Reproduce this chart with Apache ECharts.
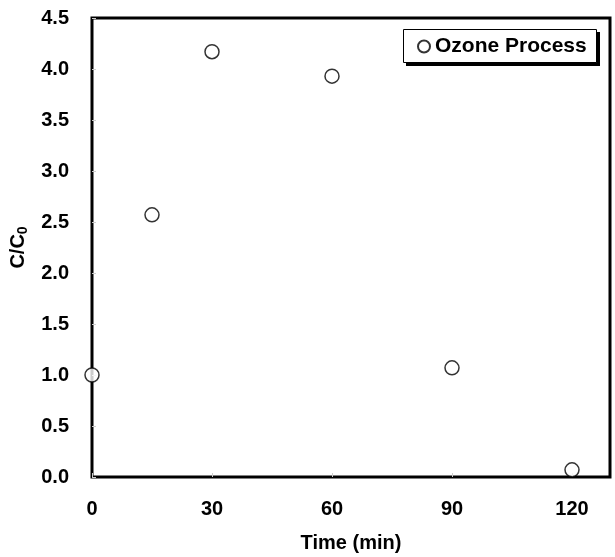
<!DOCTYPE html>
<html><head><meta charset="utf-8">
<script src="https://cdn.jsdelivr.net/npm/echarts@6/dist/echarts.min.js"></script>
<style>html,body{margin:0;padding:0;background:#fff}#c{width:615px;height:557px}</style>
</head><body><div id="c"></div>
<script>
const times = [0, 15, 30, 60, 90, 120];
const ratios = [1.0, 2.57, 4.17, 3.93, 1.07, 0.07];
const xTicks = [0, 30, 60, 90, 120];
const seriesName = 'Ozone Process';

const chart = echarts.init(document.getElementById('c'));
const font = '"Liberation Sans", Arial, sans-serif';
chart.setOption({
  animation: false,
  backgroundColor: '#fff',
  grid: { left: 92, top: 18, right: 5, bottom: 80, show: true, borderColor: '#000', borderWidth: 3,
          outerBoundsMode: 'none', containLabel: false },
  graphic: [
    { type: 'rect', z: 10, shape: { x: 406, y: 32, width: 194, height: 34 }, style: { fill: '#000' } },
    { type: 'rect', z: 11, shape: { x: 403.5, y: 29.5, width: 193, height: 33 }, style: { fill: '#fff', stroke: '#000', lineWidth: 1 } }
  ],
  legend: {
    left: 417, top: 36, orient: 'vertical', z: 20,
    data: [seriesName],
    padding: 0,
    itemWidth: 12, itemHeight: 12, itemGap: 4,
    textStyle: { fontFamily: font, fontWeight: 'bold', fontSize: 21, color: '#000' }
  },
  xAxis: {
    type: 'value', min: 0, max: 129.5,
    name: 'Time (min)', nameLocation: 'middle', nameGap: 56,
    nameTextStyle: { fontFamily: font, fontWeight: 'bold', fontSize: 20, color: '#000' },
    axisLine: { show: false },
    axisTick: { show: true, inside: true, length: 4, customValues: xTicks, lineStyle: { color: '#ccc' } },
    axisLabel: { customValues: xTicks, margin: 22, fontFamily: font, fontWeight: 'bold', fontSize: 20, color: '#000' },
    splitLine: { show: false }
  },
  yAxis: {
    type: 'value', min: 0, max: 4.5, interval: 0.5,
    name: 'C/C{s|0}', nameLocation: 'middle', nameGap: 60,
    nameTextStyle: { fontFamily: font, fontWeight: 'bold', fontSize: 20, color: '#000',
      rich: { s: { fontFamily: font, fontWeight: 'bold', fontSize: 14, color: '#000', padding: [10,0,0,0] } } },
    axisLine: { show: false },
    axisTick: { show: true, inside: true, length: 4, lineStyle: { color: '#ccc' } },
    axisLabel: { margin: 23, fontFamily: font, fontWeight: 'bold', fontSize: 20, color: '#000',
      formatter: v => v.toFixed(1) },
    splitLine: { show: false }
  },
  series: [{
    name: seriesName, type: 'scatter',
    data: times.map((t, i) => [t, ratios[i]]),
    symbol: 'circle', symbolSize: 14,
    itemStyle: { color: '#fff', borderColor: '#000', borderWidth: 1.5 }
  }]
});
</script></body></html>
